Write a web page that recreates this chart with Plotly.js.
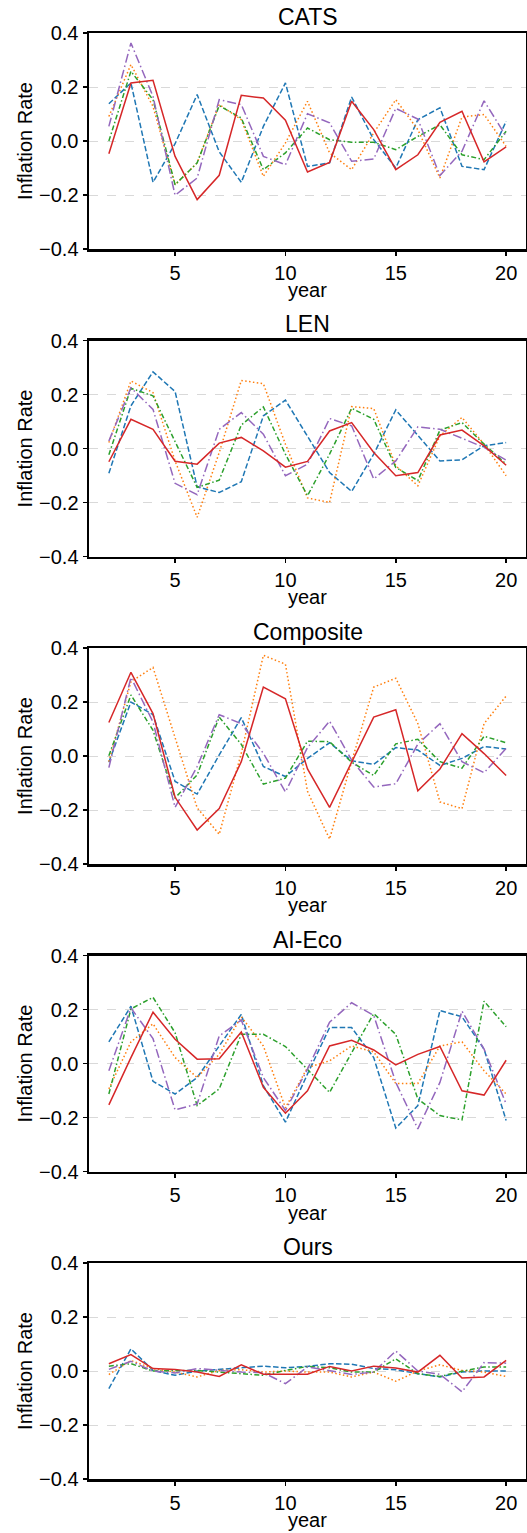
<!DOCTYPE html>
<html>
<head>
<meta charset="utf-8">
<script src="https://cdn.plot.ly/plotly-3.0.1.min.js"></script>
<style>html,body{margin:0;padding:0;background:#fff;}#chart{width:527px;height:1533px;}</style>
</head>
<body>
<div id="chart"></div>
<script>
const years = [2,3,4,5,6,7,8,9,10,11,12,13,14,15,16,17,18,19,20];
const panelTitles = ["CATS", "LEN", "Composite", "AI-Eco", "Ours"];
const xTickVals = [5, 10, 15, 20];
const yTickVals = [-0.4, -0.2, 0.0, 0.2, 0.4];

// CATS
const cats_blue   = [0.138,0.215,-0.153,-0.01,0.172,-0.04,-0.153,0.054,0.215,-0.094,-0.081,0.163,0.005,-0.1,0.079,0.123,-0.094,-0.106,0.073];
const cats_orange = [0.091,0.283,0.128,-0.162,-0.081,0.135,0.079,-0.131,-0.007,0.147,-0.044,-0.106,0.03,0.153,0.042,-0.137,0.089,0.098,-0.02];
const cats_green  = [0.0,0.258,0.153,-0.162,-0.081,0.131,0.085,-0.106,-0.044,0.048,0.005,-0.005,-0.005,-0.032,0.017,0.06,-0.051,-0.069,0.036];
const cats_purple = [0.054,0.363,0.165,-0.201,-0.137,0.153,0.135,-0.057,-0.088,0.101,0.067,-0.075,-0.067,0.121,0.081,-0.128,-0.038,0.149,0.017];
const cats_red    = [-0.047,0.215,0.225,-0.057,-0.217,-0.127,0.169,0.159,0.077,-0.115,-0.079,0.147,0.042,-0.106,-0.051,0.069,0.11,-0.077,-0.022];

// LEN
const len_blue   = [-0.092,0.158,0.284,0.211,-0.142,-0.163,-0.123,0.121,0.179,0.047,-0.089,-0.159,-0.021,0.143,0.047,-0.046,-0.042,0.01,0.022];
const len_orange = [0.022,0.25,0.207,-0.046,-0.255,-0.015,0.252,0.24,0.016,-0.183,-0.2,0.155,0.148,-0.064,-0.138,0.047,0.115,0.016,-0.101];
const len_green  = [-0.023,0.223,0.195,0.028,-0.144,-0.117,0.087,0.154,-0.021,-0.175,-0.021,0.149,0.108,-0.07,-0.119,0.068,0.096,0.016,-0.058];
const len_purple = [0.028,0.225,0.145,-0.129,-0.171,0.071,0.133,0.053,-0.101,-0.058,0.111,0.084,-0.113,-0.046,0.08,0.071,0.038,0.004,-0.043];
const len_red    = [-0.049,0.108,0.071,-0.047,-0.058,0.02,0.041,-0.009,-0.069,-0.048,0.065,0.096,-0.015,-0.101,-0.089,0.05,0.068,0.01,-0.062];

// Composite
const comp_blue   = [-0.023,0.2,0.153,-0.094,-0.141,0.004,0.142,-0.039,-0.076,-0.009,0.049,-0.018,-0.031,0.031,0.022,-0.035,-0.009,0.035,0.026];
const comp_orange = [-0.021,0.275,0.328,0.065,-0.192,-0.29,0.01,0.373,0.34,-0.131,-0.308,-0.021,0.255,0.288,0.12,-0.17,-0.195,0.12,0.222];
const comp_green  = [0.001,0.226,0.095,-0.155,-0.07,0.144,0.043,-0.104,-0.082,0.055,0.053,-0.023,-0.072,0.045,0.062,-0.021,-0.045,0.073,0.049];
const comp_purple = [-0.043,0.291,0.126,-0.19,-0.039,0.153,0.12,0.01,-0.133,0.031,0.129,-0.015,-0.115,-0.103,0.044,0.12,-0.021,-0.062,0.028];
const comp_red    = [0.124,0.31,0.157,-0.153,-0.274,-0.195,-0.021,0.255,0.212,-0.048,-0.19,-0.023,0.144,0.171,-0.129,-0.048,0.083,0.009,-0.072];

// AI-Eco
const aieco_blue   = [0.08,0.212,-0.066,-0.113,-0.052,0.065,0.182,-0.082,-0.217,-0.039,0.133,0.133,0.022,-0.239,-0.156,0.196,0.173,0.053,-0.211];
const aieco_orange = [-0.094,0.08,0.147,0.022,-0.052,0.034,0.173,0.065,-0.164,-0.015,0.01,0.065,0.043,-0.074,-0.074,0.065,0.08,-0.027,-0.113];
const aieco_green  = [-0.113,0.202,0.245,0.114,-0.156,-0.094,0.108,0.108,0.063,-0.021,-0.107,0.04,0.185,0.108,-0.131,-0.193,-0.209,0.231,0.136];
const aieco_purple = [-0.027,0.206,0.092,-0.172,-0.15,0.102,0.161,-0.052,-0.174,-0.021,0.153,0.225,0.178,-0.07,-0.242,-0.07,0.194,0.053,-0.15];
const aieco_red    = [-0.153,0.022,0.19,0.09,0.016,0.018,0.117,-0.088,-0.184,-0.101,0.065,0.086,0.05,-0.005,0.034,0.063,-0.101,-0.117,0.012];

// Ours
const ours_blue   = [-0.065,0.082,0.002,-0.016,0.0,0.005,0.012,0.018,0.012,0.017,0.027,0.025,0.009,0.005,-0.01,-0.022,-0.004,0.0,0.0];
const ours_orange = [-0.013,0.039,0.009,-0.004,-0.022,0.002,0.005,-0.004,0.0,-0.004,-0.004,-0.022,-0.004,-0.038,0.0,0.023,0.002,-0.004,-0.02];
const ours_green  = [0.018,0.027,0.0,0.0,0.002,-0.004,-0.01,-0.016,0.002,0.017,0.012,-0.004,-0.004,0.045,-0.01,-0.02,-0.001,0.015,0.015];
const ours_purple = [0.006,0.036,0.0,-0.007,0.009,0.002,-0.004,-0.006,-0.047,0.015,0.002,-0.013,-0.004,0.074,0.0,-0.012,-0.077,0.031,0.029];
const ours_red    = [0.027,0.061,0.009,0.006,-0.004,-0.02,0.023,-0.012,-0.012,-0.012,0.017,0.0,0.018,0.011,-0.004,0.058,-0.026,-0.022,0.039];

const panels = [
  [cats_blue, cats_orange, cats_green, cats_purple, cats_red],
  [len_blue, len_orange, len_green, len_purple, len_red],
  [comp_blue, comp_orange, comp_green, comp_purple, comp_red],
  [aieco_blue, aieco_orange, aieco_green, aieco_purple, aieco_red],
  [ours_blue, ours_orange, ours_green, ours_purple, ours_red]
];

const styles = [
  {color: "#1f77b4", dash: "5.5px,2.4px"},
  {color: "#ff7f0e", dash: "1.5px,2.4px"},
  {color: "#2ca02c", dash: "5px,2.4px,1.5px,2.4px"},
  {color: "#9467bd", dash: "9px,3px,1.5px,3px"},
  {color: "#d62728", dash: "solid"}
];

const H = 1533;
const font = "Liberation Sans, Arial, sans-serif";
const traces = [];
const layout = {
  width: 527, height: H,
  margin: {l: 89, r: 1, t: 0, b: 0},
  paper_bgcolor: "#fff", plot_bgcolor: "#fff",
  showlegend: false,
  font: {family: font, color: "#000", size: 20},
  annotations: []
};

panels.forEach((series, i) => {
  const n = i + 1;
  const top = 33 + i * 307.5;
  const bottom = top + 216;
  const xa = "x" + (n === 1 ? "" : n);
  const ya = "y" + (n === 1 ? "" : n);
  series.forEach((vals, k) => {
    traces.push({
      x: years, y: vals, xaxis: xa, yaxis: ya,
      type: "scatter", mode: "lines",
      line: {color: styles[k].color, dash: styles[k].dash, width: 1.5},
      hoverinfo: "skip"
    });
  });
  const axBase = {
    showline: true, mirror: true, linecolor: "#000", linewidth: 2.5,
    ticks: "outside", ticklen: 4, tickwidth: 1.5, tickcolor: "#000",
    tickfont: {family: font, size: 20, color: "#000"},
    zeroline: false
  };
  layout["xaxis" + (n === 1 ? "" : n)] = Object.assign({}, axBase, {
    domain: [0, 1], anchor: ya, range: [1.1, 20.9],
    tickmode: "array", tickvals: xTickVals, ticktext: xTickVals.map(String),
    showgrid: false
  });
  layout["yaxis" + (n === 1 ? "" : n)] = Object.assign({}, axBase, {
    domain: [1 - bottom / H, 1 - top / H], anchor: xa, range: [-0.4, 0.4],
    tickmode: "array", tickvals: yTickVals, tickformat: ".1f",
    showgrid: true, gridcolor: "#d0d0d0", griddash: "dash", gridwidth: 0.8,
    title: {text: "Inflation Rate", font: {family: font, size: 20, color: "#000"}, standoff: 1}
  });
  layout.annotations.push({
    text: panelTitles[i], xref: "paper", yref: "paper",
    x: 0.5, y: 1 - (top - 1) / H, xanchor: "center", yanchor: "bottom",
    showarrow: false, font: {family: font, size: 23, color: "#000"}
  });
  layout.annotations.push({
    text: "year", xref: "paper", yref: "paper",
    x: 0.5, y: 1 - (bottom + 41) / H, xanchor: "center", yanchor: "middle",
    showarrow: false, font: {family: font, size: 20, color: "#000"}
  });
});

Plotly.newPlot("chart", traces, layout, {staticPlot: true});
</script>
</body>
</html>
